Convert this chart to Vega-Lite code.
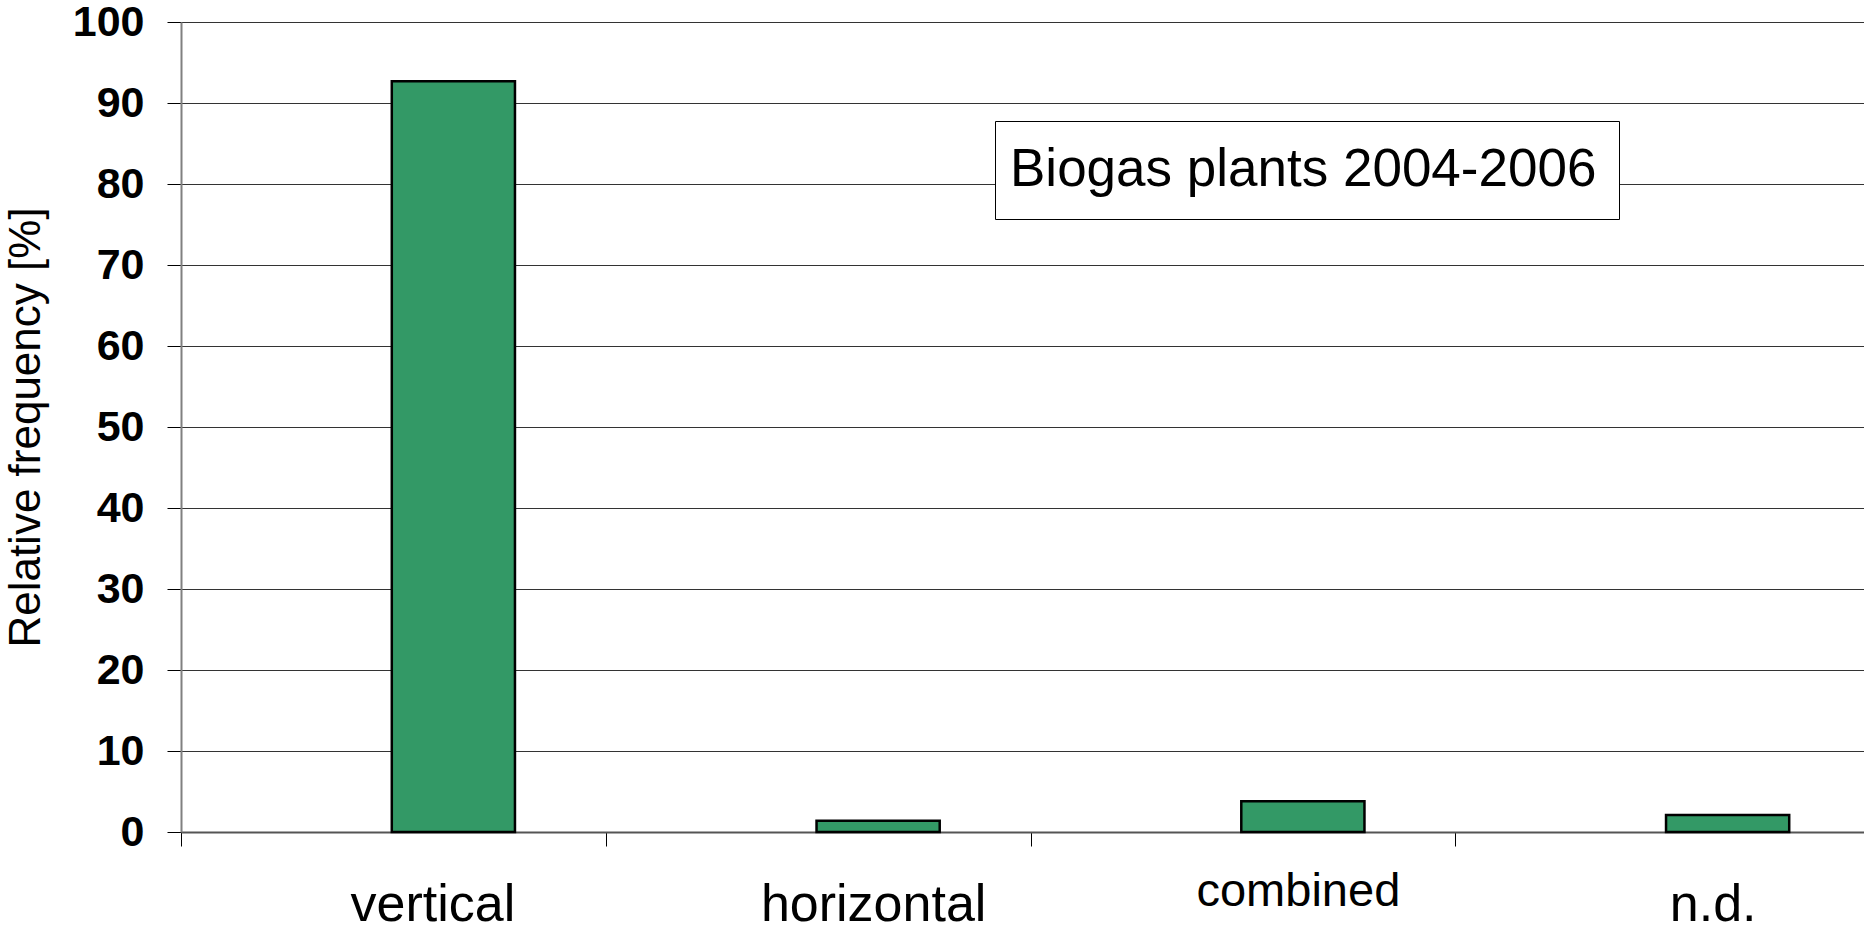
{
  "$schema": "https://vega.github.io/schema/vega-lite/v6.json",
  "autosize": "none",
  "width": 1683,
  "height": 810,
  "padding": {"left": 181, "top": 22, "right": 0, "bottom": 96},
  "background": "white",
  "config": {
    "view": {"stroke": null},
    "font": "Liberation Sans"
  },
  "data": {
    "values": [
      {"type": "vertical", "freq": 92.7, "series": "Biogas plants 2004-2006"},
      {"type": "horizontal", "freq": 1.4, "series": "Biogas plants 2004-2006"},
      {"type": "combined", "freq": 3.8, "series": "Biogas plants 2004-2006"},
      {"type": "n.d.", "freq": 2.1, "series": "Biogas plants 2004-2006"}
    ]
  },
  "mark": {
    "type": "bar",
    "width": {"band": 0.29},
    "xOffset": 60,
    "stroke": "#000000",
    "strokeWidth": 2.5
  },
  "encoding": {
    "x": {
      "field": "type",
      "type": "nominal",
      "sort": null,
      "scale": {"range": [0, 1699], "paddingInner": 0, "paddingOuter": 0},
      "axis": {
        "title": null,
        "labelAngle": 0,
        "labelFont": "Liberation Sans",
        "labelFontSize": {"condition": {"test": "datum.value === 'combined'", "value": 47}, "value": 52},
        "labelColor": "#000000",
        "labelPadding": {"condition": {"test": "datum.value === 'combined'", "value": 22}, "value": 33},
        "labelOffset": {"condition": [
          {"test": "datum.value === 'vertical'", "value": 39},
          {"test": "datum.value === 'n.d.'", "value": 45}
        ], "value": 55},
        "labelLimit": 1000,
        "tickBand": "extent",
        "tickSize": 14,
        "tickColor": "#000000",
        "tickWidth": 1,
        "domainColor": "#555555",
        "domainWidth": 2,
        "grid": false
      }
    },
    "y": {
      "field": "freq",
      "type": "quantitative",
      "scale": {"domain": [0, 100], "nice": false},
      "axis": {
        "title": "Relative frequency [%]",
        "titleFont": "Liberation Sans",
        "titleFontSize": 44,
        "titleFontWeight": "normal",
        "titleColor": "#000000",
        "titlePadding": 24,
        "values": [0, 10, 20, 30, 40, 50, 60, 70, 80, 90, 100],
        "labelFont": "Liberation Sans",
        "labelFontSize": 43,
        "labelFontWeight": "bold",
        "labelColor": "#000000",
        "labelPadding": 23,
        "tickSize": 14,
        "tickColor": "#000000",
        "tickWidth": 1,
        "domainColor": "#808080",
        "domainWidth": 2,
        "grid": true,
        "gridColor": "#333333",
        "gridWidth": 1
      }
    },
    "color": {
      "field": "series",
      "type": "nominal",
      "scale": {"range": ["#339966"]},
      "legend": {
        "title": null,
        "orient": "none",
        "legendX": 814,
        "legendY": 99,
        "padding": 22,
        "strokeColor": "#000000",
        "fillColor": "#ffffff",
        "symbolSize": 0,
        "symbolOpacity": 0,
        "symbolStrokeWidth": 0,
        "labelOffset": -60,
        "labelFont": "Liberation Sans",
        "labelFontSize": 53,
        "labelColor": "#000000",
        "labelLimit": 1000,
        "encode": {
          "legend": {"update": {"strokeWidth": {"value": 1.5}}}
        }
      }
    }
  }
}
